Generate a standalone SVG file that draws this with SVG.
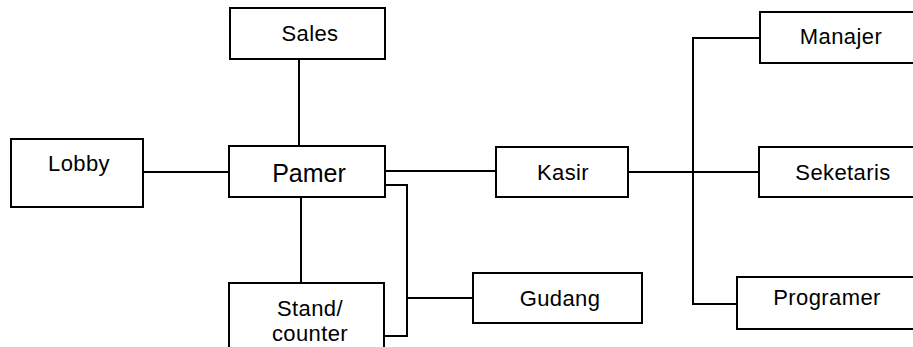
<svg xmlns="http://www.w3.org/2000/svg" width="913" height="347" viewBox="0 0 913 347">
<style>
.box{fill:#fff;stroke:#000;stroke-width:2}
.lbl{font-family:"Liberation Sans",Arial,sans-serif;font-size:22px;letter-spacing:0.4px;fill:#000;text-anchor:middle}
.big{font-size:25px;letter-spacing:0}
.con{fill:none;stroke:#000;stroke-width:2}
</style>
<rect width="913" height="347" fill="#fff"/>
<g id="connectors">
<line class="con" x1="143" y1="172" x2="229" y2="172"/>
<line class="con" x1="299" y1="59" x2="299" y2="146"/>
<line class="con" x1="301" y1="197" x2="301" y2="283"/>
<line class="con" x1="385" y1="171" x2="496" y2="171"/>
<polyline class="con" points="385,185 407,185 407,336 384,336"/>
<line class="con" x1="407" y1="298" x2="473" y2="298"/>
<line class="con" x1="628" y1="172" x2="759" y2="172"/>
<polyline class="con" points="760,38 693,38 693,304 737,304"/>
</g>
<g id="sales"><rect class="box" x="230" y="8" width="155" height="51"/><text class="lbl" x="310" y="41">Sales</text></g>
<g id="lobby"><rect class="box" x="11" y="139" width="132" height="68"/><text class="lbl" x="79" y="171">Lobby</text></g>
<g id="pamer"><rect class="box" x="229" y="146" width="156" height="51"/><text class="lbl big" x="309" y="182">Pamer</text></g>
<g id="stand"><rect class="box" x="229" y="283" width="155" height="80"/><text class="lbl" x="310" y="316">Stand/</text><text class="lbl" x="310" y="341">counter</text></g>
<g id="gudang"><rect class="box" x="473" y="273" width="169" height="50"/><text class="lbl" x="560" y="306">Gudang</text></g>
<g id="kasir"><rect class="box" x="496" y="147" width="132" height="50"/><text class="lbl" x="563" y="180">Kasir</text></g>
<g id="manajer"><rect class="box" x="760" y="12" width="170" height="51"/><text class="lbl" x="841" y="44">Manajer</text></g>
<g id="seketaris"><rect class="box" x="759" y="147" width="170" height="50"/><text class="lbl" x="843" y="180">Seketaris</text></g>
<g id="programer"><rect class="box" x="737" y="277" width="190" height="52"/><text class="lbl" x="827" y="305">Programer</text></g>
</svg>
